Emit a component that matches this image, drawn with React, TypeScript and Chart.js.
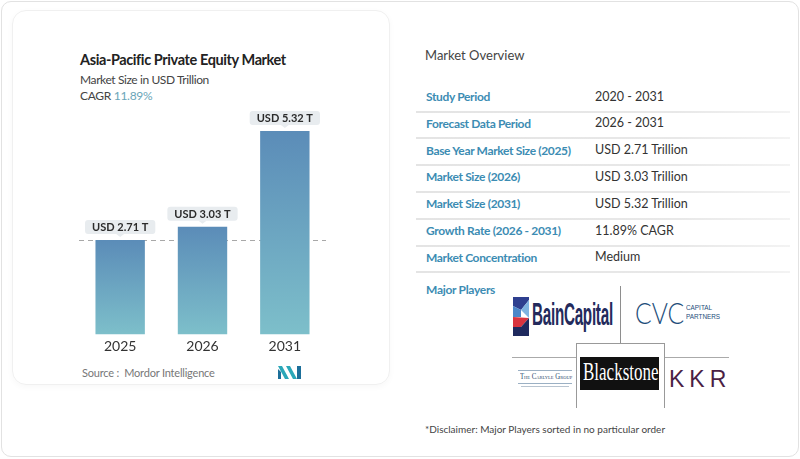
import React, { useEffect, useRef } from 'react';
import { Chart, registerables } from 'chart.js';

Chart.register(...registerables);

const categories = ['2025', '2026', '2031'];
const marketSize = [2.71, 3.03, 5.32];
const valueLabels = ['USD 2.71 T', 'USD 3.03 T', 'USD 5.32 T'];
const referenceValue = 2.71;
const yMin = 0.459;
const yMax = 6.06;

const overviewLabels = [
  'Study Period',
  'Forecast Data Period',
  'Base Year Market Size (2025)',
  'Market Size (2026)',
  'Market Size (2031)',
  'Growth Rate (2026 - 2031)',
  'Market Concentration',
];
const overviewValues = [
  '2020 - 2031',
  '2026 - 2031',
  'USD 2.71 Trillion',
  'USD 3.03 Trillion',
  'USD 5.32 Trillion',
  '11.89% CAGR',
  'Medium',
];

const FONT = 'Lato, "Open Sans", sans-serif';

const refLinePlugin = {
  id: 'refLine',
  beforeDatasetsDraw(chart: any) {
    const { ctx, chartArea, scales } = chart;
    const y = Math.round(scales.y.getPixelForValue(referenceValue)) + 0.5;
    ctx.save();
    ctx.strokeStyle = '#a8a8a8';
    ctx.lineWidth = 1;
    ctx.setLineDash([5, 4]);
    ctx.beginPath();
    ctx.moveTo(chartArea.left, y);
    ctx.lineTo(chartArea.right, y);
    ctx.stroke();
    ctx.restore();
  },
};

const valueLabelPlugin = {
  id: 'valueLabels',
  afterDatasetsDraw(chart: any) {
    const { ctx } = chart;
    const meta = chart.getDatasetMeta(0);
    ctx.save();
    ctx.font = `bold 11px ${FONT}`;
    meta.data.forEach((bar: any, i: number) => {
      const text = valueLabels[i];
      const w = ctx.measureText(text).width + 14;
      const h = 14;
      const x = bar.x;
      const bottom = bar.y - 6;
      const top = bottom - h;
      ctx.fillStyle = '#e8ecef';
      ctx.beginPath();
      ctx.roundRect(x - w / 2, top, w, h, 3);
      ctx.fill();
      ctx.beginPath();
      ctx.moveTo(x - 4, bottom);
      ctx.lineTo(x + 4, bottom);
      ctx.lineTo(x, bottom + 3);
      ctx.closePath();
      ctx.fill();
      ctx.fillStyle = '#2b2b2b';
      ctx.textAlign = 'center';
      ctx.textBaseline = 'middle';
      ctx.fillText(text, x, top + h / 2 + 0.5);
    });
    ctx.restore();
  },
};

function BarChart() {
  const ref = useRef<HTMLCanvasElement | null>(null);
  useEffect(() => {
    if (!ref.current) return;
    const chart = new Chart(ref.current, {
      type: 'bar',
      data: {
        labels: categories,
        datasets: [
          {
            data: marketSize,
            backgroundColor: (c: any) => {
              const ch = c.chart;
              const area = ch.chartArea;
              if (!area || c.parsed == null) return '#6aa3bf';
              const top = ch.scales.y.getPixelForValue(c.parsed.y);
              const g = ch.ctx.createLinearGradient(0, top, 0, area.bottom);
              g.addColorStop(0, '#5b8cb8');
              g.addColorStop(1, '#7dbfca');
              return g;
            },
            borderWidth: 0,
            barPercentage: 0.6,
            categoryPercentage: 1,
          },
        ],
      },
      options: {
        animation: false,
        responsive: false,
        maintainAspectRatio: false,
        layout: { padding: 0 },
        plugins: { legend: { display: false }, tooltip: { enabled: false } },
        scales: {
          x: {
            grid: { display: false, drawTicks: false },
            border: { display: false },
            ticks: { font: { family: FONT, size: 14 }, color: '#333', padding: 4 },
          },
          y: { display: false, min: yMin, max: yMax },
        },
      },
      plugins: [refLinePlugin, valueLabelPlugin],
    } as any);
    return () => chart.destroy();
  }, []);
  return (
    <canvas
      ref={ref}
      width={247}
      height={259}
      style={{ position: 'absolute', left: 79, top: 100, width: 247, height: 259 }}
    />
  );
}

const abs = (o: any): any => ({ position: 'absolute', ...o });

export default function App() {
  return (
    <div
      style={{
        position: 'fixed',
        left: 0,
        top: 0,
        width: 800,
        height: 459,
        background: '#fff',
        fontFamily: FONT,
        overflow: 'hidden',
      }}
    >
      {/* outer frame */}
      <div style={abs({ left: 1, top: 1, width: 798, height: 456, border: '1px solid #e2e2e2', borderRadius: 10, boxSizing: 'border-box' })} />
      {/* left card */}
      <div style={abs({ left: 12, top: 10, width: 378, height: 375, border: '1px solid #f0f0f0', borderRadius: 14, boxShadow: '0 2px 6px rgba(0,0,0,0.03)', boxSizing: 'border-box' })} />

      <div style={abs({ left: 80, top: 51, fontSize: 14.5, fontWeight: 700, color: '#222', whiteSpace: 'nowrap', letterSpacing: -0.4 })}>
        Asia-Pacific Private Equity Market
      </div>
      <div style={abs({ left: 80, top: 72, fontSize: 12, color: '#444', whiteSpace: 'nowrap', letterSpacing: -0.4 })}>
        Market Size in USD Trillion
      </div>
      <div style={abs({ left: 80, top: 88, fontSize: 12, color: '#444', whiteSpace: 'nowrap', letterSpacing: -0.3 })}>
        CAGR <span style={{ color: '#6aa5b8' }}>11.89%</span>
      </div>

      <BarChart />

      <div style={abs({ left: 82, top: 366, fontSize: 11, color: '#777', whiteSpace: 'nowrap', letterSpacing: -0.2 })}>
        Source :&nbsp; Mordor Intelligence
      </div>
      <svg style={abs({ left: 278, top: 366 })} width={23} height={13} viewBox="0 0 23 13">
        <polygon points="0,0 4,0 11,13 7,13" fill="#2aa7b8" />
        <polygon points="0,3 3,6 3,13 0,13" fill="#1c6f9a" />
        <polygon points="8,0 12,0 19,13 15,13" fill="#2aa7b8" />
        <polygon points="19,0 23,0 23,13 19,13" fill="#1c6f9a" />
      </svg>

      {/* right panel */}
      <div style={abs({ left: 425, top: 47, fontSize: 13, color: '#444', whiteSpace: 'nowrap' })}>Market Overview</div>
      {overviewLabels.map((label, i) => (
        <React.Fragment key={label}>
          <div style={abs({ left: 426, top: 89 + i * 26.8, fontSize: 12, fontWeight: 700, color: '#3c8cb3', whiteSpace: 'nowrap', letterSpacing: -0.35 })}>
            {label}
          </div>
          <div style={abs({ left: 595, top: 88.5 + i * 26.8, fontSize: 12.5, color: '#333', whiteSpace: 'nowrap' })}>
            {overviewValues[i]}
          </div>
          <div
            style={abs({
              left: 416,
              top: 110.5 + i * 26.8,
              width: 374,
              height: 2,
              background: 'linear-gradient(to right, #e4e4e4, #e8e8e8 70%, #f3f3f3)',
            })}
          />
        </React.Fragment>
      ))}

      <div style={abs({ left: 426, top: 282, fontSize: 12, fontWeight: 700, color: '#3c8cb3', whiteSpace: 'nowrap', letterSpacing: -0.3 })}>
        Major Players
      </div>

      {/* logo grid */}
      <div style={abs({ left: 620, top: 286, width: 1, height: 57, background: '#8e8e8e' })} />
      <div style={abs({ left: 512, top: 357, width: 64, height: 1, background: '#aaa' })} />
      <div style={abs({ left: 665, top: 357, width: 64, height: 1, background: '#aaa' })} />
      <div style={abs({ left: 576, top: 343, width: 89, height: 65, borderTop: '1px solid #999', borderLeft: '1px solid #999', borderRight: '1px solid #999', boxSizing: 'border-box' })} />

      {/* Bain Capital */}
      <svg style={abs({ left: 513, top: 297 })} width={16} height={39} viewBox="0 0 16 39">
        <polygon points="0,0 16,0 16,3 8,13 0,9" fill="#2e3f8f" />
        <polygon points="8,13 16,3 16,21" fill="#7fb3e0" />
        <polygon points="0,9 8,13 8,20 0,20" fill="#4b87c9" />
        <polygon points="0,20 16,21 8,30 0,30" fill="#d8343f" />
        <polygon points="8,30 16,21 16,39 0,39 0,30" fill="#1f2a5e" />
      </svg>
      <div
        style={abs({
          left: 532,
          top: 297,
          fontFamily: '"Liberation Sans", Arial, sans-serif',
          fontSize: 31,
          fontWeight: 700,
          color: '#232a5c',
          whiteSpace: 'nowrap',
          transform: 'scaleX(0.49)',
          transformOrigin: 'left top',
          letterSpacing: -0.5,
        })}
      >
        BainCapital
      </div>

      {/* CVC */}
      <div
        style={abs({
          left: 635,
          top: 295,
          fontFamily: FONT,
          fontSize: 29,
          fontWeight: 300,
          color: '#1e4e7a',
          whiteSpace: 'nowrap',
          transform: 'scaleX(0.85)',
          transformOrigin: 'left top',
        })}
      >
        CVC
      </div>
      <div
        style={abs({
          left: 686,
          top: 303,
          fontFamily: '"Liberation Sans", Arial, sans-serif',
          fontSize: 7.5,
          lineHeight: '9px',
          color: '#1e4e7a',
          whiteSpace: 'nowrap',
          transform: 'scaleX(0.85)',
          transformOrigin: 'left top',
        })}
      >
        CAPITAL
        <br />
        PARTNERS
      </div>

      {/* Carlyle */}
      <div style={abs({ left: 518, top: 370, width: 54, height: 1, background: '#9bb0c4' })} />
      <div
        style={abs({
          left: 520,
          top: 372,
          fontFamily: '"Liberation Serif", serif',
          fontSize: 7.5,
          color: '#2b4a6b',
          whiteSpace: 'nowrap',
          fontVariant: 'small-caps',
          transform: 'scaleX(0.9)',
          transformOrigin: 'left top',
        })}
      >
        The Carlyle Group
      </div>
      <div style={abs({ left: 518, top: 383, width: 54, height: 1, background: '#9bb0c4' })} />
      <div style={abs({ left: 521, top: 386, width: 48, height: 1, background: '#b8c4d0' })} />

      {/* Blackstone */}
      <div style={abs({ left: 580, top: 357, width: 79, height: 33, background: '#111' })} />
      <div
        style={abs({
          left: 583,
          top: 358,
          fontFamily: '"Liberation Serif", "DejaVu Serif", serif',
          fontSize: 25,
          color: '#fff',
          whiteSpace: 'nowrap',
          transform: 'scaleX(0.68)',
          transformOrigin: 'left top',
        })}
      >
        Blackstone
      </div>

      {/* KKR */}
      <div
        style={abs({
          left: 669,
          top: 366,
          fontFamily: '"Liberation Sans", Arial, sans-serif',
          fontSize: 23,
          color: '#4b1f45',
          whiteSpace: 'nowrap',
          letterSpacing: 5,
        })}
      >
        KKR
      </div>

      <div style={abs({ left: 425, top: 423, fontSize: 10, color: '#444', whiteSpace: 'nowrap' })}>
        *Disclaimer: Major Players sorted in no particular order
      </div>
    </div>
  );
}
